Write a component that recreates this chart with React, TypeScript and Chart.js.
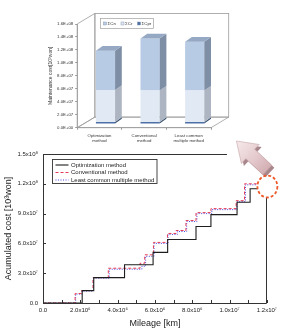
import React, { useEffect, useRef } from 'react';
import { Chart, registerables } from 'chart.js';

Chart.register(...registerables);

const FONT = '"Liberation Sans", Arial, "DejaVu Sans", sans-serif';

// ---- accumulated cost vs. mileage (step curves; mileage in km, cost in 10^3 won) ----
const optMileage = [0, 2.1e6, 2.72e6, 4.37e6, 5.9e6, 6.68e6, 8.2e6, 9.0e6, 10.4e6, 11.1e6, 11.5e6];
const optCost = [0, 12.5e6, 25.5e6, 38.5e6, 51e6, 64e6, 77e6, 89e6, 101.5e6, 115e6, 115e6];

const convMileage = [0, 1.72e6, 2.07e6, 2.68e6, 3.5e6, 5.2e6, 5.45e6, 5.92e6, 6.67e6, 7.13e6, 7.66e6, 8.2e6, 9.0e6, 10.35e6, 10.8e6, 11.45e6];
const convCost = [0, 9.5e6, 12.5e6, 25.5e6, 35e6, 40e6, 48.5e6, 61e6, 70e6, 73e6, 83e6, 91e6, 95e6, 103e6, 120e6, 120e6];

const lcmMileage = [0, 1.75e6, 2.1e6, 2.7e6, 3.55e6, 5.3e6, 5.5e6, 5.95e6, 6.7e6, 7.2e6, 7.7e6, 8.25e6, 9.05e6, 10.4e6, 10.85e6, 11.45e6];
const lcmCost = [0, 9e6, 12e6, 25e6, 34e6, 37e6, 47e6, 60e6, 69e6, 72e6, 82e6, 90e6, 94e6, 102e6, 119e6, 119e6];

const seriesNames = ['Optimization method', 'Conventional method', 'Least common multiple method'];

// ---- maintenance cost breakdown per method ----
const methods = [['Optimization', 'method'], ['Conventional', 'method'], ['Least common', 'multiple method']];
const cprCost = [3e6, 3e6, 3e6];
const crCost = [4.95e7, 4.85e7, 4.85e7];
const cnCost = [6.05e7, 8.05e7, 7.55e7];
const costNames = ['ΣCn', 'ΣCr', 'ΣCpr'];

const SUP: Record<string, string> = { '0': '⁰', '1': '¹', '2': '²', '3': '³', '4': '⁴', '5': '⁵', '6': '⁶', '7': '⁷', '8': '⁸', '9': '⁹' };

function sciLabel(v: number): string {
  if (v === 0) return '0.0';
  const e = Math.floor(Math.log10(v) + 1e-9);
  const m = v / Math.pow(10, e);
  return m.toFixed(1) + 'x10' + String(e).split('').map((c) => SUP[c]).join('');
}

function excelLabel(v: number): string {
  if (v === 0) return '0.0E+00';
  const e = Math.floor(Math.log10(v) + 1e-9);
  const m = v / Math.pow(10, e);
  return m.toFixed(1) + 'E+' + String(e).padStart(2, '0');
}

const toPoints = (xs: number[], ys: number[]) => xs.map((x, i) => ({ x, y: ys[i] }));

function poly(ctx: CanvasRenderingContext2D, pts: number[][]) {
  ctx.beginPath();
  pts.forEach(([x, y], i) => (i ? ctx.lineTo(x, y) : ctx.moveTo(x, y)));
  ctx.closePath();
}

function arrowPts(sx: number, sy: number, tx: number, ty: number, hl: number, hw: number, sw: number) {
  const dx = tx - sx, dy = ty - sy, L = Math.hypot(dx, dy);
  const ux = dx / L, uy = dy / L, vx = -uy, vy = ux;
  const nx = sx + ux * (L - hl), ny = sy + uy * (L - hl);
  return [
    [sx + vx * sw, sy + vy * sw],
    [nx + vx * sw, ny + vy * sw],
    [nx + vx * hw, ny + vy * hw],
    [tx, ty],
    [nx - vx * hw, ny - vy * hw],
    [nx - vx * sw, ny - vy * sw],
    [sx - vx * sw, sy - vy * sw],
  ];
}

// frame, inward ticks, legend, call-out arrow and highlight ellipse
const mainDecor = {
  id: 'mainDecor',
  afterDraw(chart: any) {
    const { ctx, chartArea: a, scales } = chart;
    const xs = scales.x, ys = scales.y;
    ctx.save();
    ctx.strokeStyle = '#333';
    ctx.lineWidth = 1;
    ctx.beginPath();
    xs.ticks.forEach((t: any) => {
      const px = Math.round(xs.getPixelForValue(t.value)) + 0.5;
      ctx.moveTo(px, a.bottom);
      ctx.lineTo(px, a.bottom - 3);
    });
    ys.ticks.forEach((t: any) => {
      const py = Math.round(ys.getPixelForValue(t.value)) + 0.5;
      ctx.moveTo(a.left, py);
      ctx.lineTo(a.left + 3, py);
    });
    // frame
    const L = Math.round(a.left) + 0.5, B = Math.round(a.bottom) + 0.5;
    const T = Math.round(a.top) + 0.5, R = Math.round(a.right) - 0.5;
    ctx.moveTo(L, T);
    ctx.lineTo(L, B);
    ctx.lineTo(R, B);
    ctx.lineTo(R, a.top + 43);
    ctx.moveTo(L, T);
    ctx.lineTo(a.left + 184, T);
    ctx.stroke();

    // legend
    const lx = a.left + 9.5, ly = a.top + 5.5;
    ctx.fillStyle = '#fff';
    ctx.fillRect(lx, ly, 104.5, 24);
    ctx.lineWidth = 0.9;
    ctx.strokeStyle = '#333';
    ctx.strokeRect(lx, ly, 104.5, 24);
    ctx.font = `6px ${FONT}`;
    ctx.textBaseline = 'middle';
    chart.data.datasets.forEach((ds: any, i: number) => {
      const yy = ly + 5.5 + i * 7.5;
      ctx.save();
      ctx.strokeStyle = ds.borderColor;
      ctx.lineWidth = ds.borderWidth;
      ctx.setLineDash(ds.borderDash || []);
      ctx.beginPath();
      ctx.moveTo(lx + 3, yy);
      ctx.lineTo(lx + 16, yy);
      ctx.stroke();
      ctx.restore();
      ctx.fillStyle = '#222';
      ctx.fillText(ds.label, lx + 18.5, yy + 0.3);
    });

    // call-out arrow
    const tailX = a.right + 0.5, tailY = a.top + 16;
    const tipX = a.right - 30.5, tipY = a.top - 13;
    const pts = arrowPts(tailX, tailY, tipX, tipY, 19, 13, 6.5);
    poly(ctx, pts.map(([x, y]) => [x + 2.5, y + 2.5]));
    ctx.fillStyle = '#a8868b';
    ctx.fill();
    const g = ctx.createLinearGradient(tipX, tipY, tailX, tailY);
    g.addColorStop(0, '#f6eaeb');
    g.addColorStop(0.6, '#e4c9cc');
    g.addColorStop(1, '#d2aeb2');
    poly(ctx, pts);
    ctx.fillStyle = g;
    ctx.fill();
    ctx.strokeStyle = '#c4a2a6';
    ctx.lineWidth = 0.6;
    ctx.stroke();

    // dashed ellipse
    ctx.beginPath();
    ctx.setLineDash([3, 2]);
    ctx.strokeStyle = '#ef5a2c';
    ctx.lineWidth = 1.8;
    ctx.ellipse(a.right + 0.5, a.top + 32.5, 10, 11, 0, 0, Math.PI * 2);
    ctx.stroke();
    ctx.restore();
  },
};

// 3-D box and column faces for the maintenance cost chart
const DEPTH = { x: 17.7, y: -10.6 };
const BAR_SHIFT = { x: 6, y: -3.7 };
const BAR_DEPTH = { x: 6.7, y: -4.7 };

const box3d = {
  id: 'box3d',
  beforeDatasetsDraw(chart: any) {
    const { ctx, chartArea: a } = chart;
    const { left: l, right: r, top: t, bottom: b } = a;
    ctx.save();
    ctx.strokeStyle = '#9c9c9c';
    ctx.lineWidth = 0.8;
    // back wall
    ctx.strokeRect(l + DEPTH.x, t + DEPTH.y, r - l, b - t);
    // left wall
    poly(ctx, [[l, b], [l, t], [l + DEPTH.x, t + DEPTH.y], [l + DEPTH.x, b + DEPTH.y]]);
    ctx.stroke();
    // floor
    poly(ctx, [[l, b], [r, b], [r + DEPTH.x, b + DEPTH.y], [l + DEPTH.x, b + DEPTH.y]]);
    ctx.stroke();
    ctx.restore();

    // legend
    ctx.save();
    const lx = 100.5, ly = 18.5;
    ctx.fillStyle = '#fff';
    ctx.fillRect(lx, ly, 53, 10);
    ctx.strokeStyle = '#a0a0a0';
    ctx.lineWidth = 0.7;
    ctx.strokeRect(lx, ly, 53, 10);
    ctx.font = `4.4px ${FONT}`;
    ctx.textBaseline = 'middle';
    const order = [2, 1, 0];
    const offs = [3, 20.5, 37];
    order.forEach((di, k) => {
      const ds = chart.data.datasets[di];
      const x0 = lx + offs[k];
      ctx.fillStyle = ds.backgroundColor;
      ctx.fillRect(x0, ly + 3.5, 3, 3);
      ctx.strokeStyle = '#7a8aa0';
      ctx.lineWidth = 0.4;
      ctx.strokeRect(x0, ly + 3.5, 3, 3);
      ctx.fillStyle = '#333';
      ctx.fillText(ds.label, x0 + 4, ly + 5.2);
    });
    ctx.restore();

    ctx.save();
    ctx.translate(BAR_SHIFT.x, BAR_SHIFT.y);
  },
  afterDatasetsDraw(chart: any) {
    const { ctx } = chart;
    const n = chart.data.datasets.length;
    chart.data.datasets.forEach((ds: any, di: number) => {
      const meta = chart.getDatasetMeta(di);
      meta.data.forEach((bar: any) => {
        const { x, y, base, width } = bar.getProps(['x', 'y', 'base', 'width'], true);
        const l = x - width / 2, r = x + width / 2;
        poly(ctx, [[r, y], [r + BAR_DEPTH.x, y + BAR_DEPTH.y], [r + BAR_DEPTH.x, base + BAR_DEPTH.y], [r, base]]);
        ctx.fillStyle = ds.sideColor;
        ctx.fill();
        if (di === n - 1) {
          poly(ctx, [[l, y], [l + BAR_DEPTH.x, y + BAR_DEPTH.y], [r + BAR_DEPTH.x, y + BAR_DEPTH.y], [r, y]]);
          ctx.fillStyle = ds.topColor;
          ctx.fill();
        }
      });
    });
    ctx.restore();
  },
};

export default function App() {
  const mainRef = useRef<HTMLCanvasElement>(null);
  const insetRef = useRef<HTMLCanvasElement>(null);

  useEffect(() => {
    const tickFont = { family: FONT, size: 6 };
    const main = new Chart(mainRef.current!, {
      type: 'line',
      data: {
        datasets: [
          {
            label: seriesNames[0],
            data: toPoints(optMileage, optCost),
            borderColor: '#1e1e1e',
            borderWidth: 1.1,
            stepped: 'before',
            pointRadius: 0,
            fill: false,
          },
          {
            label: seriesNames[1],
            data: toPoints(convMileage, convCost),
            borderColor: '#e63a55',
            borderWidth: 1,
            borderDash: [3, 2],
            stepped: 'before',
            pointRadius: 0,
            fill: false,
          },
          {
            label: seriesNames[2],
            data: toPoints(lcmMileage, lcmCost),
            borderColor: '#4646dc',
            borderWidth: 1,
            borderDash: [1, 1.5],
            stepped: 'before',
            pointRadius: 0,
            fill: false,
          },
        ],
      },
      options: {
        responsive: false,
        maintainAspectRatio: false,
        animation: false,
        events: [],
        layout: { padding: { left: 0, top: 154, right: 13.5, bottom: 0 } },
        plugins: { legend: { display: false }, tooltip: { enabled: false } },
        scales: {
          x: {
            type: 'linear',
            min: 0,
            max: 1.2e7,
            afterFit: (s: any) => { s.height = 29; },
            grid: { display: false, drawTicks: false },
            border: { display: false },
            ticks: {
              stepSize: 1e6,
              autoSkip: false,
              maxRotation: 0,
              padding: 4,
              color: '#222',
              font: tickFont,
              callback: (v: any) => (Math.round(v / 1e6) % 2 === 0 ? sciLabel(v) : ''),
            },
            title: {
              display: true,
              text: 'Mileage [km]',
              color: '#222',
              font: { family: FONT, size: 9 },
              padding: { top: 0, bottom: 3 },
            },
          },
          y: {
            min: 0,
            max: 1.5e8,
            afterFit: (s: any) => { s.width = 43; },
            grid: { display: false, drawTicks: false },
            border: { display: false },
            ticks: {
              stepSize: 3e7,
              padding: 5,
              color: '#222',
              font: tickFont,
              callback: (v: any) => sciLabel(v),
            },
            title: {
              display: true,
              text: 'Acumulated cost [10³won]',
              color: '#222',
              font: { family: FONT, size: 9 },
              padding: { top: 3, bottom: 0 },
            },
          },
        },
      },
      plugins: [mainDecor],
    } as any);

    const smallFont = { family: FONT, size: 4.3, lineHeight: 1.25 };
    const inset = new Chart(insetRef.current!, {
      type: 'bar',
      data: {
        labels: methods,
        datasets: [
          { label: costNames[2], data: cprCost, backgroundColor: '#4d70a6', sideColor: '#38506f', topColor: '#5f7fb0' },
          { label: costNames[1], data: crCost, backgroundColor: '#e1e9f5', sideColor: '#adb5c2', topColor: '#c8d2e0' },
          { label: costNames[0], data: cnCost, backgroundColor: '#b7cbe5', sideColor: '#7d8ea5', topColor: '#95a9c4' },
        ] as any,
      },
      options: {
        responsive: false,
        maintainAspectRatio: false,
        animation: false,
        events: [],
        layout: { padding: { left: 46, top: 24, right: 70, bottom: 0 } },
        plugins: { legend: { display: false }, tooltip: { enabled: false } },
        datasets: { bar: { barPercentage: 0.43, categoryPercentage: 1, borderWidth: 0 } },
        scales: {
          x: {
            stacked: true,
            afterFit: (s: any) => { s.height = 22.3; },
            grid: { display: true, drawOnChartArea: false, tickLength: 2, color: '#999' },
            border: { display: true, color: '#999', width: 0.8 },
            ticks: { padding: 3.5, color: '#333', font: smallFont, maxRotation: 0, autoSkip: false },
          },
          y: {
            stacked: true,
            min: 0,
            max: 1.6e8,
            afterFit: (s: any) => { s.width = 31.2; },
            grid: { display: true, drawOnChartArea: false, tickLength: 2, color: '#999' },
            border: { display: true, color: '#999', width: 0.8 },
            ticks: {
              stepSize: 2e7,
              padding: 2,
              color: '#333',
              font: smallFont,
              callback: (v: any) => excelLabel(v),
            },
            title: {
              display: true,
              text: 'Maintenance cost[10³won]',
              color: '#333',
              font: { family: FONT, size: 5 },
              padding: { top: 2, bottom: 0 },
            },
          },
        },
      },
      plugins: [box3d],
    } as any);

    return () => {
      main.destroy();
      inset.destroy();
    };
  }, []);

  return (
    <div style={{ position: 'fixed', left: 0, top: 0, width: 281, height: 332, background: '#fff' }}>
      <canvas ref={mainRef} width={281} height={332} style={{ position: 'absolute', left: 0, top: 0 }} />
      <canvas ref={insetRef} width={281} height={150} style={{ position: 'absolute', left: 0, top: 0 }} />
    </div>
  );
}
